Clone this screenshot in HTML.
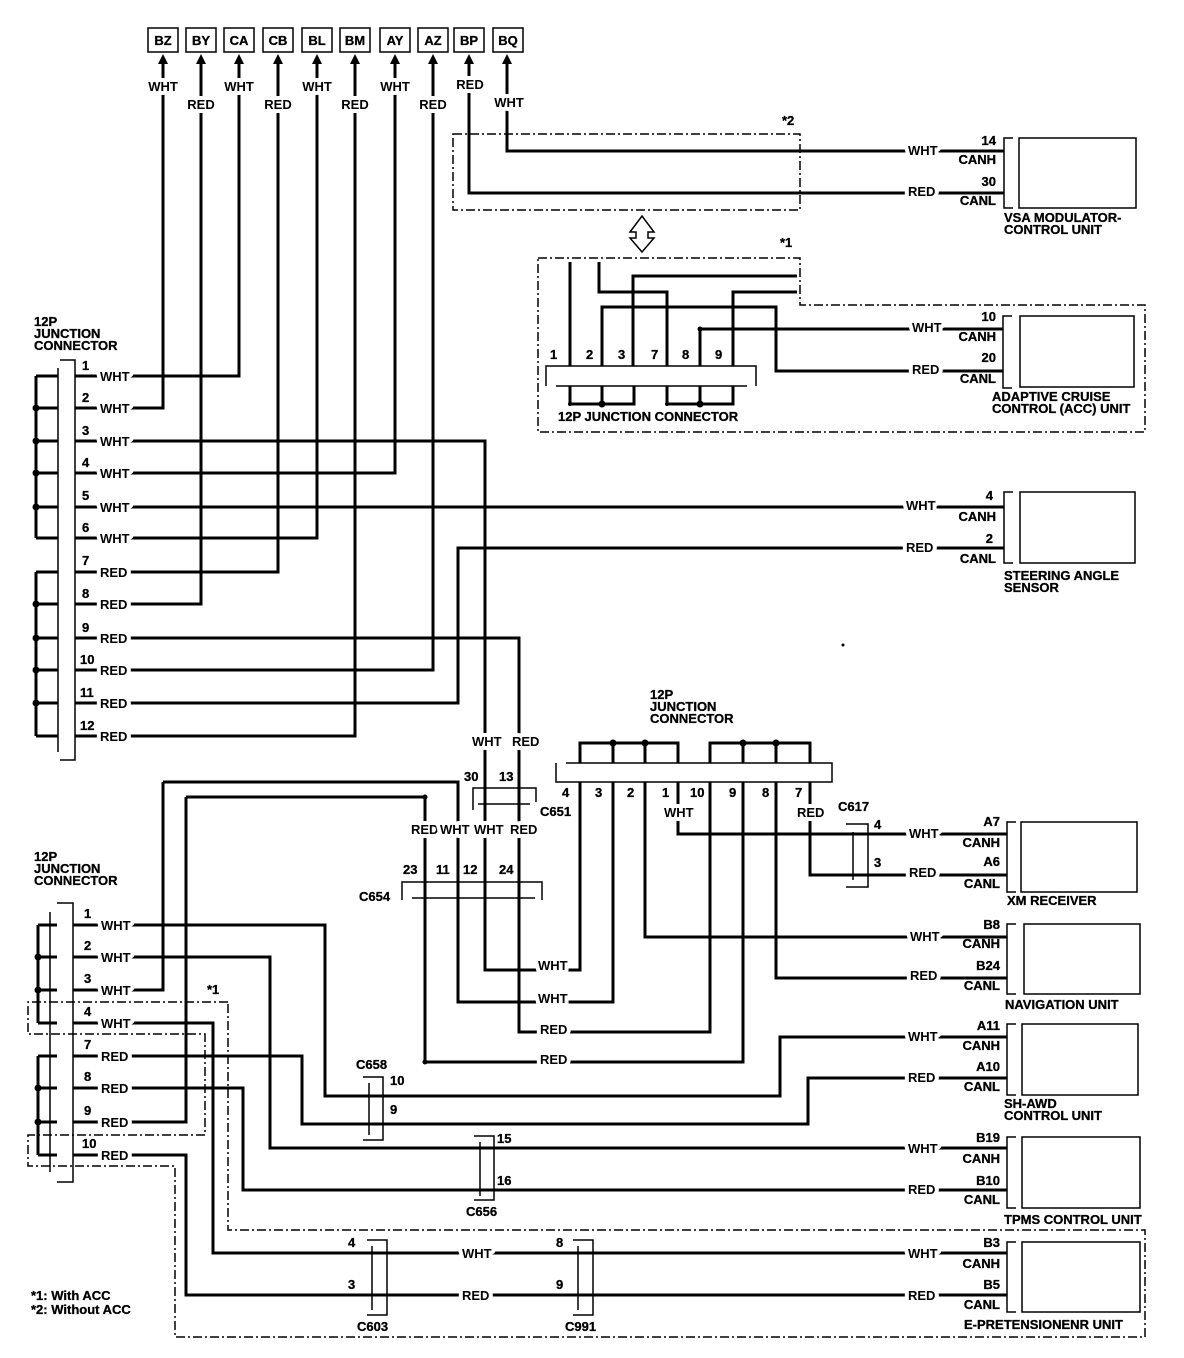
<!DOCTYPE html>
<html><head><meta charset="utf-8"><style>
html,body{margin:0;padding:0;background:#fff}
svg{display:block}
text{font-family:"Liberation Sans",Arial,sans-serif;font-weight:bold;font-size:13px;fill:#000;stroke:#000;stroke-width:0.3px}
.l{stroke:#fff;stroke-width:8px;paint-order:stroke;stroke-linejoin:round}
</style></head><body>
<svg width="1184" height="1358" viewBox="0 0 1184 1358" xmlns="http://www.w3.org/2000/svg">
<g fill="none" stroke="#000" stroke-width="3">
<path d="M163 64V408H75M201 64V604H75M239 64V376H75M278 64V572H75M317 64V538H75M355 64V736H75M395 64V473H75M433 64V670H75"/>
<path d="M469 64V193H1004M507 64V151H1004"/>
<path d="M75 441H485V970H580V782M75 507H1004M75 638H519V1032H710V782M75 703H458V548H1004"/>
<path d="M163 782H458V1002H613V782M186 797H425V1062H743V782"/>
<path d="M73 925H325V1096H780V1037H1007M73 957H270V1148H1007M73 990H163V782M73 1023H213V1253H1007M73 1056H302V1124H808V1078H1007M73 1088H243V1190H1007M73 1122H186V797M73 1155H186V1295H1007"/>
<path d="M678 782V834H1007M810 782V875H1007M645 782V937H1007M776 782V978H1007"/>
<path d="M570 262V366M599 262V292H667V366M797 276H633V366M797 292H733V366M602 366V307H776V371H1003M700 366V329H1003"/>
<path d="M36 376V538M36 572V736M36 376H58M36 408H58M36 441H58M36 473H58M36 507H58M36 538H58M36 572H58M36 604H58M36 638H58M36 670H58M36 703H58M36 736H58"/>
<path d="M38 925V1023M38 1056V1155M38 925H57M38 957H57M38 990H57M38 1023H57M38 1056H57M38 1088H57M38 1122H57M38 1155H57"/>
<path d="M570 386V404H634V386M602 386V404M667 386V404H733V386M700 386V404"/>
<path d="M580 763V743H678V763M613 743V763M645 743V763M710 763V743H810V763M743 743V763M776 743V763"/>
</g>
<g fill="#000">
<circle cx="36" cy="408" r="3.5"/><circle cx="36" cy="441" r="3.5"/><circle cx="36" cy="473" r="3.5"/><circle cx="36" cy="507" r="3.5"/>
<circle cx="36" cy="604" r="3.5"/><circle cx="36" cy="638" r="3.5"/><circle cx="36" cy="670" r="3.5"/><circle cx="36" cy="703" r="3.5"/>
<circle cx="38" cy="957" r="3.5"/><circle cx="38" cy="990" r="3.5"/><circle cx="38" cy="1088" r="3.5"/><circle cx="38" cy="1122" r="3.5"/>
<circle cx="602" cy="404" r="3.5"/><circle cx="700" cy="404" r="3.5"/><circle cx="570" cy="404" r="2"/><circle cx="667" cy="404" r="2"/>
<circle cx="613" cy="743" r="3.5"/><circle cx="645" cy="743" r="3.5"/><circle cx="743" cy="743" r="3.5"/><circle cx="776" cy="743" r="3.5"/>
<circle cx="700" cy="329" r="2.5"/><circle cx="425" cy="797" r="2.5"/><circle cx="425" cy="1062" r="2.5"/><circle cx="843" cy="645" r="1.5"/>
<path d="M158 64L163 54L168 64ZM196 64L201 54L206 64ZM234 64L239 54L244 64ZM273 64L278 54L283 64ZM312 64L317 54L322 64ZM350 64L355 54L360 64ZM390 64L395 54L400 64ZM428 64L433 54L438 64ZM464 64L469 54L474 64ZM502 64L507 54L512 64Z"/>
</g>
<g fill="none" stroke="#000" stroke-width="1.5">
<rect x="148" y="28" width="30" height="24"/><rect x="186" y="28" width="30" height="24"/><rect x="224" y="28" width="30" height="24"/><rect x="263" y="28" width="30" height="24"/><rect x="302" y="28" width="30" height="24"/><rect x="340" y="28" width="30" height="24"/><rect x="380" y="28" width="30" height="24"/><rect x="418" y="28" width="30" height="24"/><rect x="454" y="28" width="30" height="24"/><rect x="493" y="28" width="30" height="24"/>
<path d="M60 360H75V760H60M58 368V752"/>
<path d="M57 903H73V1182H57M50 912V1172"/>
<path d="M546 386V366H756V386M556 386H747"/>
<path d="M556 763V782H832V763H566"/>
<path d="M402 900V882H542V900M412 898H535"/>
<path d="M473 810V788H536V802M478 804H530"/>
<path d="M846 824H868V887H846M853 832V880"/>
<path d="M363 1077H383V1140H363M369 1083V1135"/>
<path d="M474 1136H494V1200H474M480 1142V1196"/>
<path d="M367 1240H387V1315H367M372 1246V1310"/>
<path d="M573 1240H593V1315H573M578 1246V1310"/>
<path d="M630 232L642 216L654 232H648V238H654L642 252L630 238H636V232Z"/>
<path d="M1013 138H1004V208H1013"/><rect x="1019" y="138" width="117" height="70"/>
<path d="M1012 316H1003V388H1012"/><rect x="1020" y="316" width="114" height="71"/>
<path d="M1013 492H1004V563H1013"/><rect x="1020" y="492" width="115" height="71"/>
<path d="M1016 822H1007V892H1016"/><rect x="1021" y="822" width="116" height="70"/>
<path d="M1016 924H1007V994H1016"/><rect x="1024" y="924" width="116" height="70"/>
<path d="M1016 1024H1007V1095H1016"/><rect x="1022" y="1024" width="116" height="71"/>
<path d="M1016 1137H1007V1208H1016"/><rect x="1022" y="1137" width="118" height="71"/>
<path d="M1016 1242H1007V1312H1016"/><rect x="1022" y="1242" width="118" height="70"/>
</g>
<g fill="none" stroke="#000" stroke-width="1.5" stroke-dasharray="9 3 2 3">
<rect x="453" y="134" width="347" height="76"/>
<path d="M538 258H800V305H1145V432H538Z"/>
<path d="M228 1002H28V1034H205V1135H28V1166H175V1337H1145V1230H228Z"/>
</g>
<g text-anchor="middle">
<text x="163" y="45">BZ</text><text x="201" y="45">BY</text><text x="239" y="45">CA</text><text x="278" y="45">CB</text><text x="317" y="45">BL</text><text x="355" y="45">BM</text><text x="395" y="45">AY</text><text x="433" y="45">AZ</text><text x="469" y="45">BP</text><text x="508" y="45">BQ</text>
<text class="l" x="163" y="91">WHT</text><text class="l" x="201" y="109">RED</text><text class="l" x="239" y="91">WHT</text><text class="l" x="278" y="109">RED</text><text class="l" x="317" y="91">WHT</text><text class="l" x="355" y="109">RED</text><text class="l" x="395" y="91">WHT</text><text class="l" x="433" y="109">RED</text><text class="l" x="470" y="89">RED</text><text class="l" x="509" y="107">WHT</text>
</g>
<g>
<text x="34" y="326">12P</text><text x="34" y="338">JUNCTION</text><text x="34" y="350">CONNECTOR</text>
<text x="34" y="861">12P</text><text x="34" y="873">JUNCTION</text><text x="34" y="885">CONNECTOR</text>
<text x="82" y="370">1</text><text x="82" y="402">2</text><text x="82" y="435">3</text><text x="82" y="467">4</text><text x="82" y="500">5</text><text x="82" y="532">6</text><text x="82" y="565">7</text><text x="82" y="598">8</text><text x="82" y="632">9</text><text x="80" y="664">10</text><text x="80" y="697">11</text><text x="80" y="730">12</text>
<text class="l" x="100" y="381">WHT</text><text class="l" x="100" y="413">WHT</text><text class="l" x="100" y="446">WHT</text><text class="l" x="100" y="478">WHT</text><text class="l" x="100" y="512">WHT</text><text class="l" x="100" y="543">WHT</text><text class="l" x="100" y="577">RED</text><text class="l" x="100" y="609">RED</text><text class="l" x="100" y="643">RED</text><text class="l" x="100" y="675">RED</text><text class="l" x="100" y="708">RED</text><text class="l" x="100" y="741">RED</text>
<text x="84" y="918">1</text><text x="84" y="950">2</text><text x="84" y="983">3</text><text x="84" y="1016">4</text><text x="84" y="1049">7</text><text x="84" y="1081">8</text><text x="84" y="1115">9</text><text x="82" y="1148">10</text>
<text class="l" x="101" y="930">WHT</text><text class="l" x="101" y="962">WHT</text><text class="l" x="101" y="995">WHT</text><text class="l" x="101" y="1028">WHT</text><text class="l" x="101" y="1061">RED</text><text class="l" x="101" y="1093">RED</text><text class="l" x="101" y="1127">RED</text><text class="l" x="101" y="1160">RED</text>
<text x="207" y="994">*1</text><text x="782" y="125">*2</text><text x="780" y="247">*1</text>
<text x="550" y="359">1</text><text x="586" y="359">2</text><text x="618" y="359">3</text><text x="651" y="359">7</text><text x="682" y="359">8</text><text x="715" y="359">9</text>
<text x="558" y="421">12P JUNCTION CONNECTOR</text>
<text x="650" y="699">12P</text><text x="650" y="711">JUNCTION</text><text x="650" y="723">CONNECTOR</text>
<text x="562" y="797">4</text><text x="595" y="797">3</text><text x="627" y="797">2</text><text x="662" y="797">1</text><text x="690" y="797">10</text><text x="729" y="797">9</text><text x="762" y="797">8</text><text x="795" y="797">7</text>
<text class="l" x="664" y="817">WHT</text><text class="l" x="797" y="817">RED</text>
<text x="838" y="811">C617</text><text x="874" y="829">4</text><text x="874" y="867">3</text>
<text class="l" x="472" y="746">WHT</text><text class="l" x="512" y="746">RED</text>
<text x="464" y="781">30</text><text x="499" y="781">13</text><text x="540" y="816">C651</text>
<text class="l" x="411" y="834">RED</text><text class="l" x="440" y="834">WHT</text><text class="l" x="474" y="834">WHT</text><text class="l" x="510" y="834">RED</text>
<text x="403" y="874">23</text><text x="436" y="874">11</text><text x="463" y="874">12</text><text x="499" y="874">24</text><text x="359" y="901">C654</text>
<text class="l" x="538" y="970">WHT</text><text class="l" x="538" y="1003">WHT</text><text class="l" x="540" y="1034">RED</text><text class="l" x="540" y="1064">RED</text>
<text x="356" y="1069">C658</text><text x="390" y="1085">10</text><text x="390" y="1114">9</text>
<text x="497" y="1143">15</text><text x="497" y="1185">16</text><text x="466" y="1216">C656</text>
<text x="348" y="1247">4</text><text x="348" y="1289">3</text><text x="357" y="1331">C603</text>
<text x="556" y="1247">8</text><text x="556" y="1289">9</text><text x="565" y="1331">C991</text>
<text class="l" x="462" y="1258">WHT</text><text class="l" x="462" y="1300">RED</text>
<text x="31" y="1300">*1: With ACC</text><text x="31" y="1314">*2: Without ACC</text>
<text class="l" x="908" y="155">WHT</text><text class="l" x="908" y="196">RED</text><text class="l" x="912" y="332">WHT</text><text class="l" x="912" y="374">RED</text><text class="l" x="906" y="510">WHT</text><text class="l" x="906" y="552">RED</text><text class="l" x="909" y="838">WHT</text><text class="l" x="909" y="877">RED</text><text class="l" x="910" y="941">WHT</text><text class="l" x="910" y="980">RED</text><text class="l" x="908" y="1041">WHT</text><text class="l" x="908" y="1082">RED</text><text class="l" x="908" y="1153">WHT</text><text class="l" x="908" y="1194">RED</text><text class="l" x="908" y="1258">WHT</text><text class="l" x="908" y="1300">RED</text>
<g text-anchor="end">
<text x="996" y="145">14</text><text x="996" y="164">CANH</text><text x="996" y="186">30</text><text x="996" y="205">CANL</text>
<text x="996" y="321">10</text><text x="996" y="341">CANH</text><text x="996" y="362">20</text><text x="996" y="383">CANL</text>
<text x="993" y="500">4</text><text x="996" y="521">CANH</text><text x="993" y="543">2</text><text x="996" y="563">CANL</text>
<text x="1000" y="826">A7</text><text x="1000" y="847">CANH</text><text x="1000" y="866">A6</text><text x="1000" y="888">CANL</text>
<text x="1000" y="929">B8</text><text x="1000" y="948">CANH</text><text x="1000" y="970">B24</text><text x="1000" y="990">CANL</text>
<text x="1000" y="1030">A11</text><text x="1000" y="1050">CANH</text><text x="1000" y="1071">A10</text><text x="1000" y="1091">CANL</text>
<text x="1000" y="1142">B19</text><text x="1000" y="1163">CANH</text><text x="1000" y="1185">B10</text><text x="1000" y="1204">CANL</text>
<text x="1000" y="1247">B3</text><text x="1000" y="1268">CANH</text><text x="1000" y="1289">B5</text><text x="1000" y="1309">CANL</text>
</g>
<text x="1004" y="222">VSA MODULATOR-</text><text x="1004" y="234">CONTROL UNIT</text>
<text x="992" y="401">ADAPTIVE CRUISE</text><text x="992" y="413">CONTROL (ACC) UNIT</text>
<text x="1004" y="580">STEERING ANGLE</text><text x="1004" y="592">SENSOR</text>
<text x="1007" y="905">XM RECEIVER</text>
<text x="1005" y="1009">NAVIGATION UNIT</text>
<text x="1004" y="1108">SH-AWD</text><text x="1004" y="1120">CONTROL UNIT</text>
<text x="1004" y="1224">TPMS CONTROL UNIT</text>
<text x="964" y="1329">E-PRETENSIONENR UNIT</text>
</g>
</svg>
</body></html>
